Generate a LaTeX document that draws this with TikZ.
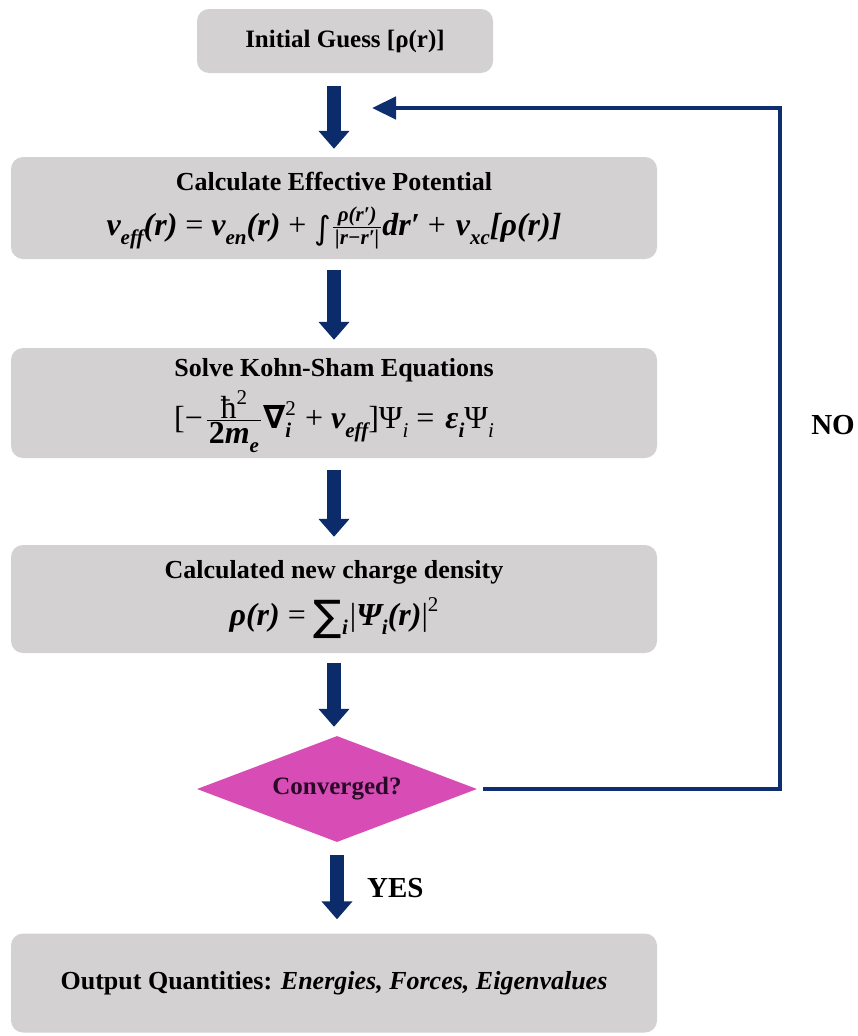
\documentclass[tikz,border=0pt]{standalone}
\usepackage{fontspec}
\setmainfont{Liberation Serif}
\newfontfamily\symf{DejaVu Sans}
\usetikzlibrary{arrows.meta,shapes.geometric}
\definecolor{boxgray}{RGB}{211,209,210}
\definecolor{navy}{RGB}{11,43,107}
\definecolor{fbblue}{RGB}{14,46,112}
\definecolor{diamondpink}{RGB}{216,77,181}
\definecolor{convtext}{RGB}{40,10,40}
\newcommand{\bi}{\bfseries\itshape}
\newcommand{\up}{\upshape\mdseries}
\newcommand{\smf}{\fontsize{21}{24}\selectfont}
\newcommand{\mysb}[1]{\raisebox{-0.28em}{\smf #1}}
\newcommand{\mysp}[1]{\raisebox{0.42em}{\smf #1}}
\newcommand{\mysbsp}[2]{\makebox[0pt][l]{\raisebox{0.42em}{\smf #2}}\raisebox{-0.28em}{\smf #1}}
\newcommand{\myop}[1]{\hspace{8pt}{\up #1}\hspace{8pt}}
\newcommand{\myfrac}[2]{{%
  \setbox0=\hbox{#1}\setbox2=\hbox{#2}%
  \dimen0=\wd0 \ifdim\wd2>\dimen0 \dimen0=\wd2 \fi
  \advance\dimen0 by 4pt
  \dimen2=\dimexpr 0.25em-\ht2-2pt\relax
  \raise\dimen2\vbox{\hbox to\dimen0{\hss\box0\hss}\kern1.5pt\hrule height 1.2pt\kern1.5pt\hbox to\dimen0{\hss\box2\hss}}}}
\newcommand{\myeqveff}{{\bi v\mysb{eff}(r)}\myop{=}{\bi v\mysb{en}(r)}\myop{+}{\symf\raisebox{-0.1em}{∫}}\hspace{2pt}\myfrac{\smf\bi ρ(r′)}{\smf\bi |r−r′|}\hspace{1pt}{\bi dr′}\myop{+}\hspace{2pt}{\bi v\mysb{xc}[ρ(r)]}}
\newcommand{\myeqks}{{\up[−}\hspace{4pt}\myfrac{\up ħ\mysp{2}}{\bfseries 2{\itshape m\mysb{e}}}\hspace{2pt}{\symf\bfseries ∇}\mysbsp{\bi i}{\up 2}\hspace{6pt}\myop{+}{\bi v\mysb{eff}}{\up]Ψ\mysb{\itshape i}}\myop{=}\hspace{3pt}{\bi ε\mysb{i}}{\up Ψ\mysb{\itshape i}}}
\newcommand{\myeqrho}{{\bi ρ(r)}\myop{=}{\symf\fontsize{42}{42}\selectfont\raisebox{-0.12em}{∑}}\mysb{\bi i}\hspace{2pt}{\up|}{\bi Ψ\mysb{i}(r)}{\up|\mysp{2}}}
\begin{document}
\begin{tikzpicture}[x=1pt,y=-1pt,
  box/.style={fill=boxgray, rounded corners=12pt, inner sep=0pt},
  ttl/.style={font=\fontsize{26}{30}\selectfont\bfseries, inner sep=0pt},
  eqn/.style={font=\fontsize{32}{36}\selectfont, inner sep=0pt},
  lbl/.style={font=\fontsize{29}{34}\selectfont\bfseries, inner sep=0pt},
  bigarrow/.style={draw=navy, line width=14pt, -{Triangle[width=30pt,length=18pt]}},
  fb/.style={draw=fbblue, line width=4.5pt, -{Triangle[width=22pt,length=24pt]}}]
\path[use as bounding box] (0,0) rectangle (857,1036);

% boxes
\node[box, minimum width=296pt, minimum height=64pt, font=\fontsize{25}{30}\selectfont\bfseries] (b1) at (345,41) {Initial Guess [ρ(r)]};

\node[box, minimum width=646pt, minimum height=102pt] (b2) at (334,208) {};
\node[ttl] (t2) at (334,182) {Calculate Effective Potential};
\node[eqn] (e2) at (334,228) {\myeqveff};

\node[box, minimum width=646pt, minimum height=110pt] (b3) at (334,403) {};
\node[ttl] (t3) at (334,370) {Solve Kohn-Sham Equations};
\node[eqn] (e3) at (334,422) {\myeqks};

\node[box, minimum width=646pt, minimum height=108pt] (b4) at (334,599) {};
\node[ttl] (t4) at (334,572) {Calculated new charge density};
\node[eqn] (e4) at (334,618) {\myeqrho};

\node[diamond, fill=diamondpink, minimum width=280pt, minimum height=106pt, inner sep=0pt, aspect=2.6,
      font=\fontsize{25}{30}\selectfont\bfseries, text=convtext] (conv) at (337,789) {Converged?};

\node[box, minimum width=646pt, minimum height=99pt, font=\fontsize{26}{30}\selectfont\bfseries] (b5) at (334,983)
  {Output Quantities: \textit{Energies, Forces, Eigenvalues}};

% labels
\node[lbl, anchor=west] (yes) at (367,888) {YES};
\node[lbl] (no) at (833,425) {NO};

% main arrows
\draw[bigarrow] ([yshift=-13pt]b1.south -| b2.north) -- ([yshift=8pt]b2.north);
\draw[bigarrow] ([yshift=-11pt]b2.south) -- ([yshift=8pt]b3.north);
\draw[bigarrow] ([yshift=-12pt]b3.south) -- ([yshift=8pt]b4.north);
\draw[bigarrow] ([yshift=-10pt]b4.south) -- ([yshift=9pt]b4.south |- conv.north);
\draw[bigarrow] ([yshift=-13pt]conv.south) -- ([yshift=14pt]b5.north -| conv.south);

% feedback loop
\coordinate (fbturn) at (780,108);
\coordinate (fbtip) at (372,108);
\draw[fb] ([xshift=6pt]conv.east) -| (fbturn) -- (fbtip);
\end{tikzpicture}
\end{document}
